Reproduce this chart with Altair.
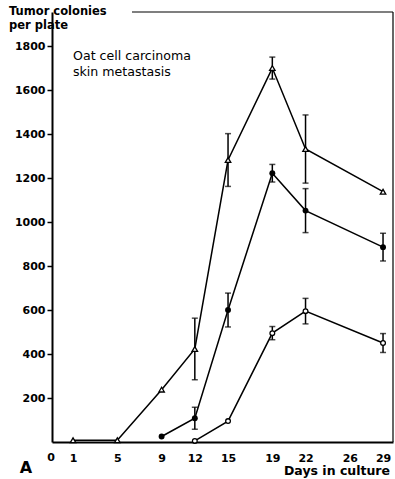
import altair as alt
import pandas as pd

# Data
tri_days = [1, 5, 9, 12, 15, 19, 22, 29]
tri_vals = [8, 8, 238, 423, 1282, 1700, 1332, 1138]
tri_err = [0, 0, 0, 140, 120, 50, 155, 0]

fill_days = [9, 12, 15, 19, 22, 29]
fill_vals = [25, 108, 600, 1222, 1052, 886]
fill_err = [0, 50, 77, 40, 100, 63]

open_days = [12, 15, 19, 22, 29]
open_vals = [5, 95, 495, 595, 450]
open_err = [0, 0, 30, 58, 43]

x_ticks = [0, 1, 5, 9, 12, 15, 19, 22, 26, 29]
y_ticks = [200, 400, 600, 800, 1000, 1200, 1400, 1600, 1800]

FONT = "DejaVu Sans"

def frame(days, vals, errs):
    df = pd.DataFrame({"day": days, "val": vals, "err": errs})
    df["lo"] = df["val"] - df["err"]
    df["hi"] = df["val"] + df["err"]
    return df

tri = frame(tri_days, tri_vals, tri_err)
fil = frame(fill_days, fill_vals, fill_err)
opn = frame(open_days, open_vals, open_err)

xs = alt.Scale(domain=[-0.9, 29.9], nice=False, zero=False)
ys = alt.Scale(domain=[0, 1955], nice=False)

# the origin label "0" sits at the axis corner in the original, drawn as text below
xax = alt.Axis(values=[t for t in x_ticks if t != 0], title=None, ticks=False, grid=False,
               domainColor="black", domainWidth=2, labelFont=FONT, labelFontSize=11,
               labelFontWeight="bold", labelColor="black", labelPadding=10)
yax = alt.Axis(values=y_ticks, format="d", title=None, ticks=True, tickSize=5, tickColor="black",
               tickWidth=1.5, grid=False, domainColor="black", domainWidth=2,
               labelFont=FONT, labelFontSize=11, labelFontWeight="bold", labelColor="black",
               labelPadding=2)

def X(field="day"):
    return alt.X(f"{field}:Q", scale=xs, axis=xax, title=None)

def Y(field):
    return alt.Y(f"{field}:Q", scale=ys, axis=yax, title=None)

def series(df, shape, filled, size):
    line = alt.Chart(df).mark_line(color="black", strokeWidth=1.5).encode(x=X(), y=Y("val"))
    e = df[df["err"] > 0]
    stem = alt.Chart(e).mark_rule(color="black", strokeWidth=1.5).encode(
        x=X(), y=Y("lo"), y2="hi:Q")
    cap_hi = alt.Chart(e).mark_tick(color="black", orient="horizontal", size=6, thickness=1.5).encode(
        x=X(), y=Y("hi"))
    cap_lo = alt.Chart(e).mark_tick(color="black", orient="horizontal", size=6, thickness=1.5).encode(
        x=X(), y=Y("lo"))
    pts = alt.Chart(df).mark_point(shape=shape, filled=filled, size=size, color="black",
                                   fill="black" if filled else "white", strokeWidth=1.3, opacity=1).encode(
        x=X(), y=Y("val"))
    return [line, stem, cap_hi, cap_lo, pts]

layers = []
layers += series(tri, "triangle-up", False, 30)
layers += series(fil, "circle", True, 35)
layers += series(opn, "circle", False, 22)

# frame lines (top and right) of the scanned figure
top = alt.Chart(pd.DataFrame({"a": [0]})).mark_rule(color="black", strokeWidth=1.2).encode(
    x=alt.value(80), x2=alt.value(341), y=alt.value(0))
right = alt.Chart(pd.DataFrame({"a": [0]})).mark_rule(color="black", strokeWidth=1.2).encode(
    x=alt.value(341), y=alt.value(0), y2=alt.value(430))

def txt(s, x, y, size, weight="normal", align="left", baseline="middle"):
    return alt.Chart(pd.DataFrame({"t": [s]})).mark_text(
        text=s, font=FONT, fontSize=size, fontWeight=weight, align=align, baseline=baseline,
        color="black").encode(x=alt.value(x), y=alt.value(y))

texts = [
    txt("Tumor colonies", -43, 0, 11.5, "bold"),
    txt("per plate", -43, 14, 11.5, "bold"),
    txt("Oat cell carcinoma", 21, 44, 12.6),
    txt("skin metastasis", 21, 60, 12.6),
    txt("Days in culture", 338, 459, 12.5, "bold", "right"),
    txt("A", -26, 456, 16, "bold", "center"),
    txt(str(x_ticks[0]), -1, 440, 11, "bold", "center", "top"),
]

chart = alt.layer(*layers, top, right, *texts).properties(
    width=341, height=430,
    autosize=alt.AutoSizeParams(type="none"),
    padding={"left": 52, "top": 12, "right": 2, "bottom": 37},
    background="white",
).configure_view(stroke=None)

chart.save("out.html", embed_options={"renderer": "svg", "actions": False})
